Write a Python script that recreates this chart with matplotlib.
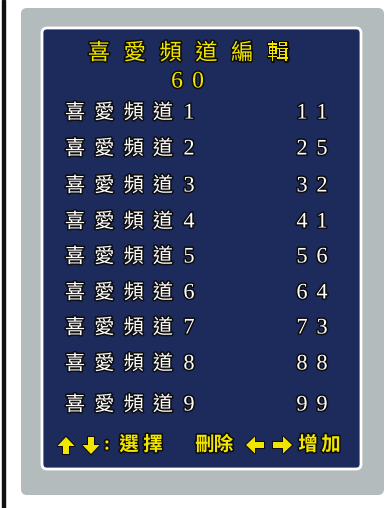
import matplotlib.pyplot as plt
from matplotlib.patches import FancyBboxPatch, Rectangle, FancyArrow
import matplotlib.patheffects as pe

plt.rcParams['font.family'] = ['Noto Sans CJK TC', 'DejaVu Sans']

title = "喜愛頻道編輯"
total = "60"
names = ["喜愛頻道1", "喜愛頻道2", "喜愛頻道3", "喜愛頻道4", "喜愛頻道5",
         "喜愛頻道6", "喜愛頻道7", "喜愛頻道8", "喜愛頻道9"]
channels = ["11", "25", "32", "41", "56", "64", "73", "88", "99"]
row_y = [113, 149, 186, 222, 257, 293, 328, 364, 405]
hint_left = "選擇"
hint_right = ["刪除", "增加"]

yellow = '#f2e600'
navy = '#1c2a5c'
grey = '#b4bbbd'
shadow = [pe.withStroke(linewidth=2.2, foreground='#0d0d0d')]

fig = plt.figure(figsize=(3.92, 5.08), dpi=100)
ax = fig.add_axes([0, 0, 1, 1])
ax.set_xlim(0, 392)
ax.set_ylim(508, 0)
ax.axis('off')


def spaced(x0, y, s, pitch, **kw):
    # draw each character centred on its own slot, like the OSD font
    for i, c in enumerate(s):
        fam = ['Liberation Serif'] if c.isdigit() else ['Noto Sans CJK TC', 'DejaVu Sans']
        ax.text(x0 + i * pitch, y, c, ha='center', va='center', family=fam,
                path_effects=shadow, **kw)


# left black line
ax.add_patch(Rectangle((2, 0), 3, 508, color='#111111'))
# grey panel
ax.add_patch(FancyBboxPatch((21, 8), 363, 487, boxstyle='round,pad=0,rounding_size=6',
                            fc=grey, ec='none'))
# blue panel with white border
ax.add_patch(FancyBboxPatch((42, 28), 319, 441, boxstyle='round,pad=0,rounding_size=5',
                            fc=navy, ec='white', lw=2))

spaced(99, 53, title, 35.8, color=yellow, fontsize=16)
spaced(177, 82, total, 21, color=yellow, fontsize=17)

for name, ch, y in zip(names, channels, row_y):
    spaced(75, y, name[:4], 29.3, color='white', fontsize=14.5)
    spaced(189, y + 1, name[4:], 19, color='white', fontsize=16)
    spaced(302, y + 1, ch, 20, color='white', fontsize=16)

# bottom hint line
hy = 445
arrow_kw = dict(width=6, head_width=17, head_length=9, length_includes_head=True,
                fc=yellow, ec='none',
                path_effects=[pe.withStroke(linewidth=1.5, foreground='#0d0d0d')])
ax.add_patch(FancyArrow(66, 454, 0, -17, **arrow_kw))
ax.add_patch(FancyArrow(91, 437, 0, 17, **arrow_kw))
ax.add_patch(FancyArrow(264, hy, -18, 0, **arrow_kw))
ax.add_patch(FancyArrow(273, hy, 19, 0, **arrow_kw))
ax.text(107, hy, ":", color=yellow, fontsize=14, ha='center', va='center',
        family=['Liberation Serif'], fontweight='bold', path_effects=shadow)
spaced(129, hy, hint_left, 24, color=yellow, fontsize=14, fontweight='bold')
spaced(205, hy, hint_right[0], 18.5, color=yellow, fontsize=14, fontweight='bold')
spaced(308, hy, hint_right[1], 23, color=yellow, fontsize=14, fontweight='bold')

fig.savefig('out.png', dpi=100)
